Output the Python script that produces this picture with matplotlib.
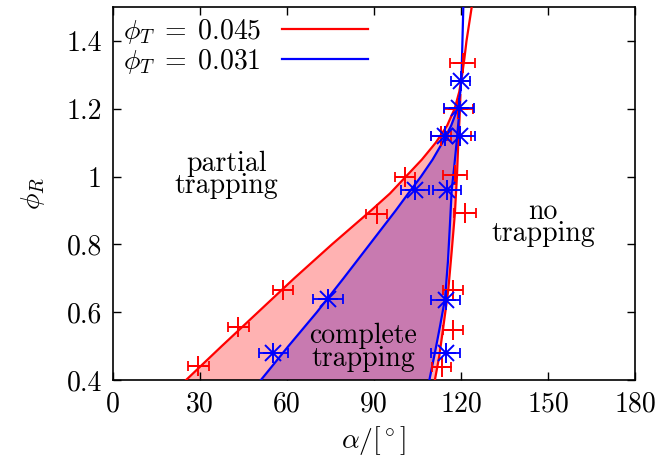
import matplotlib
matplotlib.use("Agg")
import matplotlib.pyplot as plt

plt.rcParams["font.family"] = "serif"
plt.rcParams["font.serif"] = ["cmr10", "DejaVu Serif"]
plt.rcParams["mathtext.fontset"] = "cm"
plt.rcParams["axes.unicode_minus"] = False

# measured points (alpha in degrees, phi_R) with x error bars
red_alpha = [29.4, 43.2, 58.7, 90.9, 100.7, 113.0, 119.0, 120.6,
             113.3, 117.3, 117.3, 121.4, 117.9, 119.5]
red_phi = [0.44, 0.556, 0.666, 0.89, 1.0, 1.12, 1.2, 1.334,
           0.437, 0.548, 0.664, 0.892, 1.005, 1.12]
red_err = [3.6, 3.6, 3.5, 3.5, 3.3, 3.5, 5.0, 4.3,
           3.2, 3.4, 3.4, 3.7, 4.0, 4.0]

blue_alpha = [55.3, 74.2, 104.1, 114.5, 119.4, 119.9,
              114.7, 114.7, 115.1, 119.7]
blue_phi = [0.479, 0.64, 0.959, 1.12, 1.203, 1.281,
            0.479, 0.637, 0.959, 1.12]
blue_err = [5.0, 5.2, 4.9, 5.0, 5.2, 3.2,
            4.9, 4.9, 4.9, 5.0]

# boundary curves
red_left_x = [25.2, 37.5, 50.0, 62.5, 75.5, 89.0, 95.5, 101.0, 106.5, 111.3, 115.2,
              117.8, 119.4, 120.4, 121.2, 121.9, 122.8, 123.7]
red_left_y = [0.40, 0.50, 0.60, 0.70, 0.80, 0.90, 0.95, 1.00, 1.05, 1.10, 1.15,
              1.20, 1.25, 1.30, 1.35, 1.40, 1.45, 1.50]
red_right_x = [111.0, 112.5, 113.8, 115.6, 116.8, 117.9, 118.6, 119.1, 119.5, 119.8]
red_right_y = [0.40, 0.47, 0.55, 0.664, 0.78, 0.892, 1.00, 1.108, 1.17, 1.24]

blue_left_x = [51.0, 60.5, 70.3, 79.5, 88.5, 97.5, 101.8, 106.2, 110.2, 113.6,
               116.6, 118.8, 119.8, 120.2, 120.5, 120.8]
blue_left_y = [0.40, 0.50, 0.60, 0.70, 0.80, 0.90, 0.95, 1.00, 1.05, 1.10,
               1.15, 1.20, 1.25, 1.30, 1.40, 1.50]
blue_right_x = [109.1, 111.0, 112.8, 114.5, 115.5, 116.2, 116.8, 117.8, 118.7, 119.2, 119.6]
blue_right_y = [0.40, 0.48, 0.56, 0.64, 0.75, 0.86, 0.96, 1.04, 1.12, 1.17, 1.22]

fig = plt.figure(figsize=(6.62, 4.61), dpi=100)
ax = fig.add_axes([0.1707, 0.1757, 0.7885, 0.8091])

# shaded regions
n_red = sum(1 for v in red_left_y if v <= 1.22)
ax.fill(red_left_x[:n_red] + red_right_x[::-1], red_left_y[:n_red] + red_right_y[::-1],
        color="#ffb2b2", lw=0, zorder=1)
n_blue = sum(1 for v in blue_left_y if v <= 1.2)
ax.fill(blue_left_x[:n_blue] + blue_right_x[::-1], blue_left_y[:n_blue] + blue_right_y[::-1],
        color="#c87ab0", lw=0, zorder=2)

ax.plot(red_left_x, red_left_y, color="red", lw=1.6, zorder=3, label=r"$\phi_T \;=\; 0.045$")
ax.plot(red_right_x, red_right_y, color="red", lw=1.6, zorder=3)
ax.plot(blue_left_x, blue_left_y, color="blue", lw=1.6, zorder=4, label=r"$\phi_T \;=\; 0.031$")
ax.plot(blue_right_x, blue_right_y, color="blue", lw=1.6, zorder=4)

ax.errorbar(red_alpha, red_phi, xerr=red_err, fmt="none", ecolor="red",
            elinewidth=1.3, capsize=3.5, capthick=1.3, zorder=5)
ax.plot(red_alpha, red_phi, ls="none", marker="+", ms=15, mew=1.4, color="red", zorder=5)
ax.errorbar(blue_alpha, blue_phi, xerr=blue_err, fmt="none", ecolor="blue",
            elinewidth=1.3, capsize=3.5, capthick=1.3, zorder=6)
ax.plot(blue_alpha, blue_phi, ls="none", marker="+", ms=14, mew=1.4, color="blue", zorder=6)
ax.plot(blue_alpha, blue_phi, ls="none", marker="x", ms=12, mew=1.4, color="blue", zorder=6)

fs = 20
ax.text(39.2, 1.005, "partial\ntrapping", ha="center", va="center", fontsize=fs, linespacing=0.8)
ax.text(86.2, 0.496, "complete\ntrapping", ha="center", va="center", fontsize=fs, linespacing=0.8)
ax.text(148.3, 0.863, "no\ntrapping", ha="center", va="center", fontsize=fs, linespacing=0.8)

ax.set_xlim(0, 180)
ax.set_ylim(0.4, 1.5)
ax.set_xticks([0, 30, 60, 90, 120, 150, 180])
ax.set_xticklabels(["0", "30", "60", "90", "120", "150", "180"], fontsize=fs)
ax.set_yticks([0.4, 0.6, 0.8, 1.0, 1.2, 1.4])
ax.set_yticklabels(["0.4", "0.6", "0.8", "1", "1.2", "1.4"], fontsize=fs)
ax.tick_params(direction="in", top=True, right=True, length=6, width=1, pad=8)
for s in ax.spines.values():
    s.set_linewidth(1.2)

ax.set_xlabel(r"$\alpha/[^\circ]$", fontsize=fs, labelpad=5)
ax.set_ylabel(r"$\phi_R$", fontsize=fs, labelpad=14)

ax.legend(loc="upper left", frameon=False, markerfirst=False, fontsize=fs,
          handlelength=3.1, handletextpad=0.75, borderaxespad=0.15, labelspacing=0.05,
          borderpad=0.2)

fig.savefig("out.png", dpi=100)
